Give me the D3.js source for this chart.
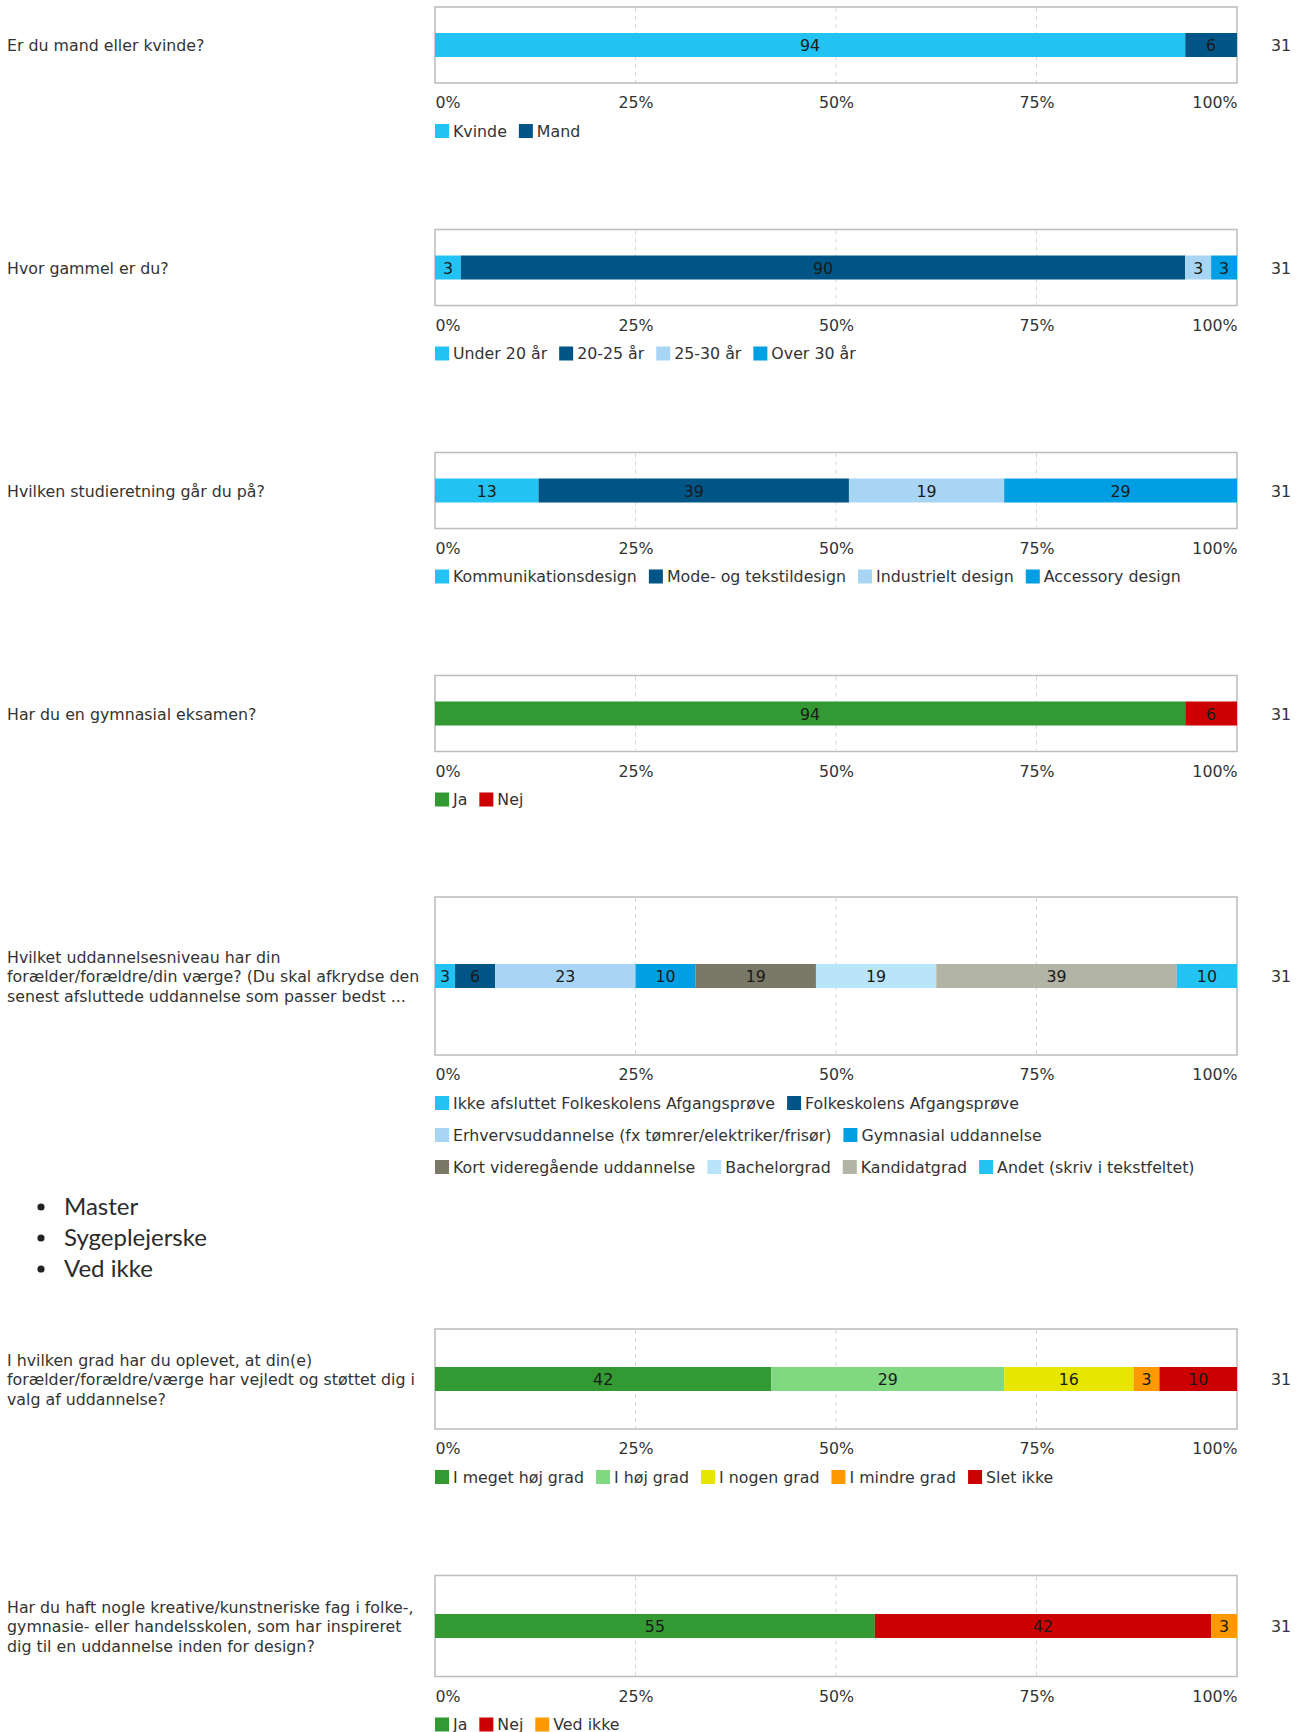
<!DOCTYPE html>
<html><head><meta charset="utf-8">
<script src="https://cdn.jsdelivr.net/npm/d3@7"></script>
<style>body{margin:0;background:#fff}svg{display:block}</style>
</head><body>
<script>
// ---------- DATA ----------
const respondents = 31;
const tickValues = [0, 0.25, 0.5, 0.75, 1];

const q1Lines = ["Er du mand eller kvinde?"];
const q1Cats = ["Kvinde", "Mand"];
const q1Counts = [29, 2];
const q1Colors = ["#22c3f3", "#005587"];

const q2Lines = ["Hvor gammel er du?"];
const q2Cats = ["Under 20 år", "20-25 år", "25-30 år", "Over 30 år"];
const q2Counts = [1, 28, 1, 1];
const q2Colors = ["#22c3f3", "#005587", "#a9d5f5", "#009fe3"];

const q3Lines = ["Hvilken studieretning går du på?"];
const q3Cats = ["Kommunikationsdesign", "Mode- og tekstildesign", "Industrielt design", "Accessory design"];
const q3Counts = [4, 12, 6, 9];
const q3Colors = ["#22c3f3", "#005587", "#a9d5f5", "#009fe3"];

const q4Lines = ["Har du en gymnasial eksamen?"];
const q4Cats = ["Ja", "Nej"];
const q4Counts = [29, 2];
const q4Colors = ["#339933", "#cc0000"];

const q5Lines = ["Hvilket uddannelsesniveau har din",
  "forælder/forældre/din værge? (Du skal afkrydse den",
  "senest afsluttede uddannelse som passer bedst ..."];
const q5Cats = ["Ikke afsluttet Folkeskolens Afgangsprøve", "Folkeskolens Afgangsprøve",
  "Erhvervsuddannelse (fx tømrer/elektriker/frisør)", "Gymnasial uddannelse",
  "Kort videregående uddannelse", "Bachelorgrad", "Kandidatgrad", "Andet (skriv i tekstfeltet)"];
const q5Counts = [1, 2, 7, 3, 6, 6, 12, 3];
const q5Colors = ["#22c3f3", "#005587", "#a9d5f5", "#009fe3", "#7a7866", "#b9e4f9", "#b2b4a5", "#22c3f3"];

const bulletItems = ["Master", "Sygeplejerske", "Ved ikke"];

const q6Lines = ["I hvilken grad har du oplevet, at din(e)",
  "forælder/forældre/værge har vejledt og støttet dig i",
  "valg af uddannelse?"];
const q6Cats = ["I meget høj grad", "I høj grad", "I nogen grad", "I mindre grad", "Slet ikke"];
const q6Counts = [13, 9, 5, 1, 3];
const q6Colors = ["#339933", "#80d880", "#e6e600", "#ff9900", "#cc0000"];

const q7Lines = ["Har du haft nogle kreative/kunstneriske fag i folke-,",
  "gymnasie- eller handelsskolen, som har inspireret",
  "dig til en uddannelse inden for design?"];
const q7Cats = ["Ja", "Nej", "Ved ikke"];
const q7Counts = [17, 13, 1];
const q7Colors = ["#339933", "#cc0000", "#ff9900"];

// ---------- LAYOUT ----------
const W = 1302, H = 1732;
const plotLeft = 435, plotRight = 1237;
const font = "'DejaVu Sans', Verdana, sans-serif";
const fs = 15.8;
const questions = [
  {lines: q1Lines, cats: q1Cats, counts: q1Counts, colors: q1Colors, top: 7, h: 76},
  {lines: q2Lines, cats: q2Cats, counts: q2Counts, colors: q2Colors, top: 229.5, h: 76},
  {lines: q3Lines, cats: q3Cats, counts: q3Counts, colors: q3Colors, top: 452.5, h: 76},
  {lines: q4Lines, cats: q4Cats, counts: q4Counts, colors: q4Colors, top: 675.5, h: 76},
  {lines: q5Lines, cats: q5Cats, counts: q5Counts, colors: q5Colors, top: 897, h: 158},
  {lines: q6Lines, cats: q6Cats, counts: q6Counts, colors: q6Colors, top: 1329, h: 100},
  {lines: q7Lines, cats: q7Cats, counts: q7Counts, colors: q7Colors, top: 1575.5, h: 101}
];

const svg = d3.select("body").append("svg").attr("width", W).attr("height", H)
  .style("font-family", font);

const x = d3.scaleLinear().domain([0, 1]).range([plotLeft, plotRight]);

questions.forEach(q => {
  const g = svg.append("g");
  const barH = 24;
  const cy = q.top + q.h / 2;
  const total = d3.sum(q.counts);
  let acc = 0;
  const segs = q.counts.map((c, i) => {
    const s = {start: acc / total, end: (acc + c) / total, count: c, color: q.colors[i]};
    acc += c; return s;
  });

  // box
  g.append("rect").attr("x", plotLeft).attr("y", q.top)
    .attr("width", plotRight - plotLeft).attr("height", q.h)
    .attr("fill", "#fff").attr("stroke", "#bcbcbc").attr("stroke-width", 1.5);

  // grid
  g.selectAll("line.grid").data(tickValues.slice(1, -1)).join("line")
    .attr("x1", d => x(d)).attr("x2", d => x(d))
    .attr("y1", q.top + 1).attr("y2", q.top + q.h - 1)
    .attr("stroke", "#d6d6d6").attr("stroke-dasharray", "4,4");

  // bars
  g.selectAll("rect.seg").data(segs).join("rect")
    .attr("x", d => x(d.start)).attr("width", d => x(d.end) - x(d.start))
    .attr("y", cy - barH / 2).attr("height", barH).attr("fill", d => d.color);

  g.selectAll("text.val").data(segs).join("text")
    .attr("x", d => (x(d.start) + x(d.end)) / 2).attr("y", cy)
    .attr("dy", "0.38em").attr("text-anchor", "middle")
    .attr("font-size", fs).attr("fill", "#1a1a1a")
    .text(d => Math.round(d.count / respondents * 100));

  // respondents
  g.append("text").attr("x", 1271).attr("y", cy).attr("dy", "0.38em")
    .attr("font-size", fs).attr("fill", "#333").text(respondents);

  // question label
  const lh = 19.5;
  const t = g.append("text").attr("font-size", fs).attr("fill", "#333");
  q.lines.forEach((ln, i) => {
    t.append("tspan").attr("x", 7)
      .attr("y", cy + (i - (q.lines.length - 1) / 2) * lh).attr("dy", "0.38em").text(ln);
  });

  // axis
  const bottom = q.top + q.h;
  const ax = g.append("g").attr("transform", `translate(0,${bottom + 11})`)
    .call(d3.axisBottom(x).tickValues(tickValues).tickFormat(d3.format(".0%")).tickSize(0));
  ax.select(".domain").remove();
  ax.selectAll("text").attr("font-size", fs).attr("font-family", font).attr("fill", "#333")
    .attr("text-anchor", d => d === 0 ? "start" : d === 1 ? "end" : "middle");

  // legend
  let lx = plotLeft, ly = bottom + 48;
  q.cats.forEach((c, i) => {
    const lg = g.append("g");
    lg.append("rect").attr("x", 0).attr("y", -7).attr("width", 14).attr("height", 14)
      .attr("fill", q.colors[i]);
    const tt = lg.append("text").attr("x", 18).attr("y", 0).attr("dy", "0.36em")
      .attr("font-size", fs).attr("fill", "#333").text(c);
    const w = 18 + tt.node().getComputedTextLength();
    if (lx + w > plotRight && lx > plotLeft) { lx = plotLeft; ly += 32; }
    lg.attr("transform", `translate(${lx},${ly})`);
    lx += w + 12;
  });
});

// bullet list
const bl = svg.append("g");
bl.selectAll("circle").data(bulletItems).join("circle")
  .attr("cx", 41).attr("cy", (d, i) => 1207 + i * 31).attr("r", 3.6).attr("fill", "#222");
bl.selectAll("text").data(bulletItems).join("text")
  .attr("x", 64).attr("y", (d, i) => 1207 + i * 31).attr("dy", "0.35em")
  .attr("font-family", "Lato, 'Open Sans', sans-serif").attr("font-size", 24)
  .attr("fill", "#2b2b2b").text(d => d);
</script>
</body></html>
